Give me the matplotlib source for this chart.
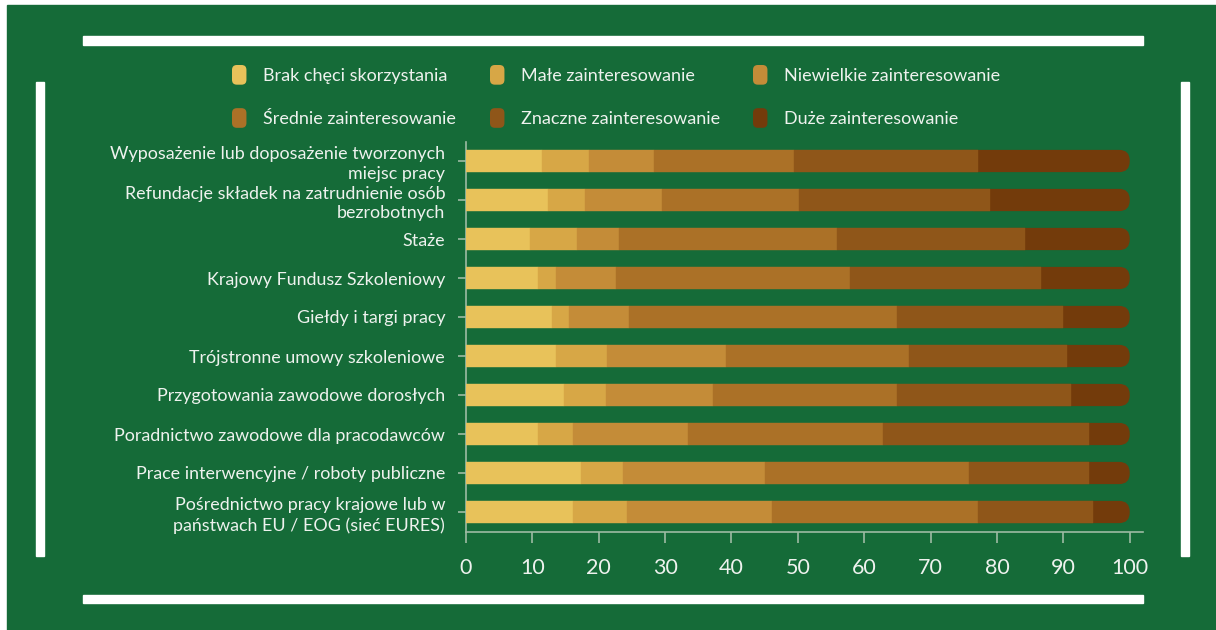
import numpy as np
import matplotlib
matplotlib.use("Agg")
import matplotlib.pyplot as plt
from matplotlib.patches import FancyBboxPatch, Rectangle
from matplotlib.legend_handler import HandlerPatch

plt.rcParams["font.family"] = ["Lato", "DejaVu Sans"]

categories = [
    "Wyposażenie lub doposażenie tworzonych\nmiejsc pracy",
    "Refundacje składek na zatrudnienie osób\nbezrobotnych",
    "Staże",
    "Krajowy Fundusz Szkoleniowy",
    "Giełdy i targi pracy",
    "Trójstronne umowy szkoleniowe",
    "Przygotowania zawodowe dorosłych",
    "Poradnictwo zawodowe dla pracodawców",
    "Prace interwencyjne / roboty publiczne",
    "Pośrednictwo pracy krajowe lub w\npaństwach EU / EOG (sieć EURES)",
]

series_names = [
    "Brak chęci skorzystania",
    "Małe zainteresowanie",
    "Niewielkie zainteresowanie",
    "Średnie zainteresowanie",
    "Znaczne zainteresowanie",
    "Duże zainteresowanie",
]

brak = [11.5, 12.3, 9.6, 10.8, 12.9, 13.5, 14.7, 10.8, 17.3, 16.1]
male = [7.1, 5.7, 7.1, 2.7, 2.6, 7.7, 6.4, 5.3, 6.4, 8.2]
niewielkie = [9.7, 11.5, 6.4, 9.1, 9.0, 18.0, 16.1, 17.3, 21.3, 21.8]
srednie = [21.1, 20.6, 32.8, 35.3, 40.5, 27.6, 27.7, 29.5, 30.8, 31.0]
znaczne = [27.7, 28.9, 28.3, 28.8, 24.9, 23.8, 26.3, 30.9, 18.0, 17.3]
duze = [22.9, 21.0, 15.8, 13.3, 10.1, 9.4, 8.8, 6.2, 6.2, 5.6]

xticks = [0, 10, 20, 30, 40, 50, 60, 70, 80, 90, 100]

colors = ["#e8c25a", "#d7a746", "#c48c38", "#ab7127", "#8f5619", "#733b0b"]
bg = "#156b38"
axis_col = "#9dbba3"
text_col = "#eef2ee"


def rounded_marker(legend, orig_handle, xdescent, ydescent, width, height, fontsize):
    return FancyBboxPatch((-xdescent, -ydescent), width, height,
                          boxstyle="round,pad=0,rounding_size=3.5")


fig = plt.figure(figsize=(12.16, 6.30), dpi=100, facecolor="white")

# green panel with white decorative bars
fig.patches.append(Rectangle((7 / 1216, 0), 1 - 7 / 1216, 1 - 5 / 630,
                             transform=fig.transFigure, color=bg, zorder=-2))
for (x0, y0, w, h) in [(83, 36, 1060, 9), (83, 595, 1060, 8),
                       (36, 82, 8, 474), (1181, 82, 8, 474)]:
    fig.patches.append(Rectangle((x0 / 1216, 1 - (y0 + h) / 630), w / 1216, h / 630,
                                 transform=fig.transFigure, color="white", zorder=-1))

ax = fig.add_axes([466 / 1216, 1 - 531.5 / 630, (1143 - 466) / 1216, 390 / 630])
ax.set_facecolor("none")

data = np.array([brak, male, niewielkie, srednie, znaczne, duze])
y = np.arange(len(categories))
h = 0.57
left = np.zeros(len(categories))
handles = []
for i, (name, vals) in enumerate(zip(series_names, data)):
    if i < len(series_names) - 1:
        ax.barh(y, vals, left=left, height=h, color=colors[i], label=name,
                edgecolor=colors[i], linewidth=0.3, zorder=3)
    else:
        # last segment with rounded right end
        for yi, l, v in zip(y, left, vals):
            p = FancyBboxPatch((l - 4, yi - h / 2), v + 4, h,
                               boxstyle="round,pad=0,rounding_size=1.6",
                               mutation_aspect=0.17, facecolor=colors[i],
                               edgecolor="none", zorder=2)
            ax.add_patch(p)
    handles.append(Rectangle((0, 0), 1, 1, facecolor=colors[i], edgecolor="none"))
    left = left + vals

ax.set_xlim(0, 102)
ax.set_ylim(len(categories) - 0.5, -0.5)
ax.set_xticks(xticks)
ax.set_yticks(y)
ax.set_yticklabels(categories, linespacing=1.3, multialignment="right")

for s in ["top", "right"]:
    ax.spines[s].set_visible(False)
for s in ["left", "bottom"]:
    ax.spines[s].set_color(axis_col)
    ax.spines[s].set_linewidth(1.2)
ax.tick_params(axis="x", colors=axis_col, labelcolor=text_col, labelsize=15.5,
               length=8, width=1.2, pad=11)
ax.tick_params(axis="y", colors=axis_col, labelcolor=text_col, labelsize=12.9,
               length=6, width=1.2, pad=9)

# legend: three columns, filled row by row
col_x = [232 / 1216, 490 / 1216, 753 / 1216]
for c in range(3):
    idx = [c, c + 3]
    fig.legend([handles[k] for k in idx], [series_names[k] for k in idx],
               loc="upper left", bbox_to_anchor=(col_x[c], 1 - 65 / 630),
               frameon=False, fontsize=13, labelcolor=text_col,
               handlelength=0.8, handleheight=1.3, handletextpad=0.9,
               labelspacing=1.3, borderaxespad=0, borderpad=0,
               handler_map={Rectangle: HandlerPatch(patch_func=rounded_marker)})

fig.savefig("out.png", dpi=100, facecolor=fig.get_facecolor())
